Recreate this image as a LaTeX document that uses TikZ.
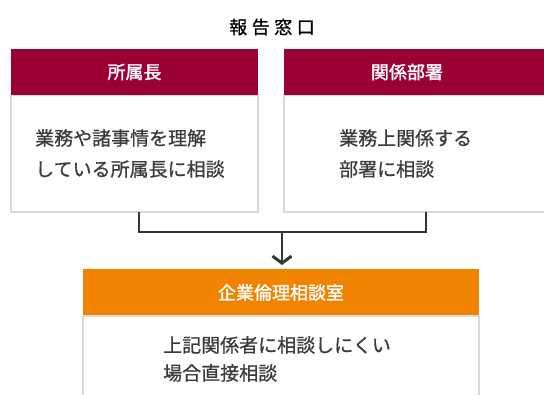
\documentclass[tikz,border=0pt]{standalone}
\usepackage{fontspec}
\setmainfont{Noto Sans CJK JP}
\usetikzlibrary{arrows.meta,positioning,calc}
\definecolor{crimson}{HTML}{9B0033}
\definecolor{ochre}{HTML}{F08300}
\definecolor{frame}{HTML}{D9D9D9}
\definecolor{ink}{HTML}{3C3C3C}
\tikzset{
  hdrblk/.style={rectangle,anchor=north west,inner sep=0pt,minimum height=46pt},
  redhdr/.style={hdrblk,fill=crimson},
  orghdr/.style={hdrblk,fill=ochre},
  hdrtxt/.style={text=white,inner sep=0pt,font=\fontsize{18}{20}\selectfont\addfontfeature{FakeBold=1.6}},
  bodyblk/.style={draw=frame,line width=1.5pt,fill=white},
  txt/.style={anchor=west,inner sep=0pt,text=ink,align=left,font=\fontsize{19}{31}\selectfont\addfontfeature{FakeBold=0.8}},
  conn/.style={draw=ink!90!black,line width=1.5pt},
  arr/.style={-{Straight Barb[length=7pt,width=19pt,line width=3pt]}}
}

\begin{document}
\begin{tikzpicture}[x=1pt,y=-1pt]
  \useasboundingbox (0,0) rectangle (544,394);
  % Title
  \node[font=\fontsize{18}{20}\selectfont\addfontfeature{LetterSpace=25,FakeBold=1}] (title) at (272,27) {報告窓口};

  % Left box
  \draw[bodyblk] (11,95) rectangle (258,212);
  \node[redhdr, minimum width=247pt] (hdrL) at (11,49) {};
  \node[hdrtxt] (lblL) at (134.5,72) {所属長};
  \node[txt] (txtL) at (35,153.5) {業務や諸事情を理解\\している所属長に相談};
  \coordinate (botL) at (139,212);

  % Right box
  \draw[bodyblk] (284,95) rectangle (547,212);
  \node[redhdr, minimum width=262pt] (hdrR) at (284,49) {};
  \node[hdrtxt] (lblR) at (407,72) {関係部署};
  \node[txt] (txtR) at (339,153.5) {業務上関係する\\部署に相談};
  \coordinate (botR) at (426,212);

  % Bottom box
  \draw[bodyblk] (83,316) rectangle (479,400);
  \node[orghdr, minimum width=396pt] (hdrC) at (83,269) {};
  \node[hdrtxt] (lblC) at (281,292.5) {企業倫理相談室};
  \node[txt, font=\fontsize{19}{28}\selectfont\addfontfeature{FakeBold=0.8}] (txtC) at (163,359) {上記関係者に相談しにくい\\場合直接相談};

  % Connectors
  \coordinate (join) at (282,232);
  \draw[conn] (botL) |- (join) -| (botR);
  \draw[conn, arr] (join) -- ($(hdrC.north -| join)+(0,-4)$);
\end{tikzpicture}
\end{document}
